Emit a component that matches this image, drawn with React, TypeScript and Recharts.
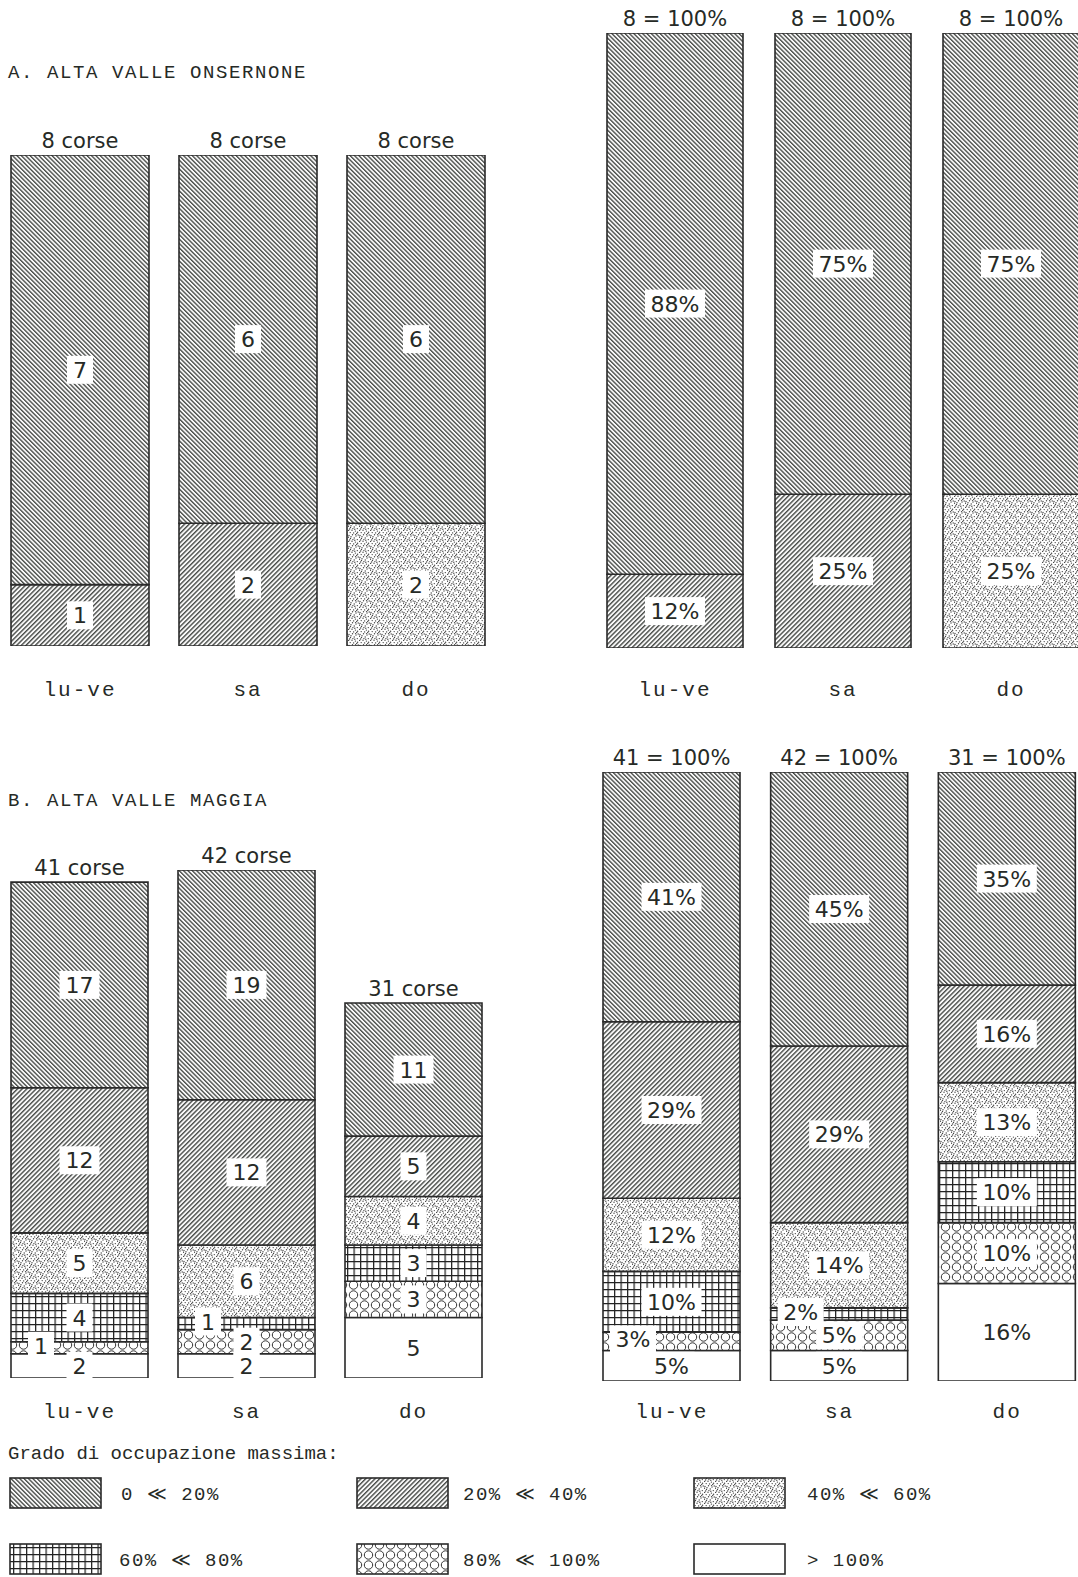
import React from "react"
import { BarChart, Bar, XAxis, YAxis, LabelList } from "recharts"

const CATEGORIES = ["lu-ve", "sa", "do"]

// segment order, bottom to top: >100%, 80-100%, 60-80%, 40-60%, 20-40%, 0-20%
const LEVELS = ["> 100%", "80% ≪ 100%", "60% ≪ 80%", "40% ≪ 60%", "20% ≪ 40%", "0 ≪ 20%"]

// A. Alta Valle Onsernone - number of runs
const onsTotals = [8, 8, 8]
const onsLuVe = [0, 0, 0, 0, 1, 7]
const onsSa = [0, 0, 0, 0, 2, 6]
const onsDo = [0, 0, 0, 2, 0, 6]
// A. percentages
const onsPctLuVe = [0, 0, 0, 0, 12, 88]
const onsPctSa = [0, 0, 0, 0, 25, 75]
const onsPctDo = [0, 0, 0, 25, 0, 75]

// B. Alta Valle Maggia - number of runs
const magTotals = [41, 42, 31]
const magLuVe = [2, 1, 4, 5, 12, 17]
const magSa = [2, 2, 1, 6, 12, 19]
const magDo = [5, 3, 3, 4, 5, 11]
// B. percentages
const magPctLuVe = [5, 3, 10, 12, 29, 41]
const magPctSa = [5, 5, 2, 14, 29, 45]
const magPctDo = [16, 10, 10, 13, 16, 35]

const FILLS = ["#ffffff", "url(#pOver)", "url(#pGrid)", "url(#pDots)", "url(#pHatch2)", "url(#pHatch1)"]

const buildRows = (values: number[][], headers: string[]) =>
  CATEGORIES.map((name, i) => {
    const row: Record<string, any> = { name, header: headers[i] }
    values[i].forEach((v, k) => (row[`s${k}`] = v))
    return row
  })

const LABEL_FONT = "'DejaVu Sans', sans-serif"
const MONO_FONT = "'Liberation Mono', 'DejaVu Sans Mono', monospace"
const INK = "#262a26"

const boxWidth = (text: string) => {
  let w = 0
  for (const ch of text) w += ch === "%" ? 20 : 14
  return w + 12
}

const SegmentLabel = (pct: boolean) => (props: any) => {
  const vb = props.viewBox || props
  const { x, y, width, height } = vb
  const value = props.value
  if (!value) return null
  const text = pct ? `${value}%` : `${value}`
  const small = height < 20
  const cx = small ? x + 30 : x + width / 2
  const cy = y + height / 2 - (small ? 2 : 0)
  const bw = boxWidth(text)
  return (
    <g>
      <rect x={cx - bw / 2} y={cy - 14} width={bw} height={28} fill="#fff" />
      <text x={cx} y={cy + 8} textAnchor="middle" fontFamily={LABEL_FONT} fontSize={22} fill={INK}>
        {text}
      </text>
    </g>
  )
}

const HeaderLabel = (props: any) => {
  const vb = props.viewBox || props
  const { x, y, width } = vb
  return (
    <text x={x + width / 2} y={y - 7} textAnchor="middle" fontFamily={LABEL_FONT} fontSize={21} fill={INK}>
      {props.value}
    </text>
  )
}

type PanelProps = {
  rows: Record<string, any>[]
  left: number
  width: number
  plotTop: number
  plotHeight: number
  max: number
  barSize: number
  tickOffset: number
  pct: boolean
}

const TOP = 50
const BOTTOM = 60

function Panel({ rows, left, width, plotTop, plotHeight, max, barSize, tickOffset, pct }: PanelProps) {
  const tick = ({ x, y, payload }: any) => (
    <text x={x} y={y + tickOffset} textAnchor="middle" fontFamily={MONO_FONT} fontSize={21} letterSpacing={2} fill={INK}>
      {payload.value}
    </text>
  )
  return (
    <div style={{ position: "absolute", left, top: plotTop - TOP }}>
      <BarChart
        width={width}
        height={TOP + plotHeight + BOTTOM}
        data={rows}
        margin={{ top: TOP, right: 0, bottom: 0, left: 0 }}
        barCategoryGap={0}
        barSize={barSize}
      >
        <XAxis dataKey="name" tickLine={false} axisLine={false} tickSize={0} tickMargin={0} height={BOTTOM} interval={0} tick={tick} />
        <YAxis hide type="number" domain={[0, max]} allowDataOverflow />
        {FILLS.map((fill, k) => (
          <Bar
            key={k}
            dataKey={`s${k}`}
            stackId="a"
            fill={fill}
            stroke="#2a2a2a"
            strokeWidth={1.6}
            isAnimationActive={false}
          >
            <LabelList dataKey={`s${k}`} content={SegmentLabel(pct)} />
            {k === FILLS.length - 1 && <LabelList dataKey="header" content={HeaderLabel} />}
          </Bar>
        ))}
      </BarChart>
    </div>
  )
}

const DOTS = [
  [1, 1.5], [4.5, 0.8], [8, 2], [2.5, 4.5], [6.2, 4], [9.3, 5.6], [0.6, 7.4], [4, 7.2], [7.4, 8.1], [2.2, 9.6], [5.6, 9.9], [9.6, 9.3],
  [3, 2.8], [10.2, 1], [6.8, 6.2], [1.6, 6], [8.7, 10.4], [4.9, 5.6], [0.4, 3.2], [7.6, 0.2],
]

const Patterns = () => (
  <defs>
    <pattern id="pHatch1" width="3.1" height="3.1" patternUnits="userSpaceOnUse" patternTransform="rotate(-45)">
      <rect width="3.1" height="3.1" fill="#fafafa" />
      <rect width="1.35" height="3.1" fill="#4a4d4a" />
    </pattern>
    <pattern id="pHatch2" width="3.3" height="3.3" patternUnits="userSpaceOnUse" patternTransform="rotate(45)">
      <rect width="3.3" height="3.3" fill="#fafafa" />
      <rect width="1.4" height="3.3" fill="#4a4d4a" />
    </pattern>
    <pattern id="pDots" width="11" height="11" patternUnits="userSpaceOnUse">
      <rect width="11" height="11" fill="#fff" />
      {DOTS.map(([cx, cy], i) => (
        <circle key={i} cx={cx} cy={cy} r={0.7} fill="#444" />
      ))}
    </pattern>
    <pattern id="pGrid" width="6.5" height="7" patternUnits="userSpaceOnUse">
      <rect width="6.5" height="7" fill="#fff" />
      <path d="M0 0.6 H6.5 M0.6 0 V7" stroke="#222" strokeWidth={1.3} />
    </pattern>
    <pattern id="pOver" width="11" height="10" patternUnits="userSpaceOnUse">
      <rect width="11" height="10" fill="#fff" />
      <circle cx={5.5} cy={5} r={4.2} fill="none" stroke="#333" strokeWidth={1} />
    </pattern>
  </defs>
)

const LEGEND_POS = [
  { sx: 10, sy: 1478, tx: 121, k: 5 },
  { sx: 357, sy: 1478, tx: 463, k: 4 },
  { sx: 694, sy: 1478, tx: 807, k: 3 },
  { sx: 10, sy: 1544, tx: 119, k: 2 },
  { sx: 357, sy: 1544, tx: 463, k: 1 },
  { sx: 694, sy: 1544, tx: 807, k: 0 },
]

export default function App() {
  const aCounts = buildRows([onsLuVe, onsSa, onsDo], onsTotals.map((n) => `${n} corse`))
  const aPct = buildRows([onsPctLuVe, onsPctSa, onsPctDo], onsTotals.map((n) => `${n} = 100%`))
  const bCounts = buildRows([magLuVe, magSa, magDo], magTotals.map((n) => `${n} corse`))
  const bPct = buildRows([magPctLuVe, magPctSa, magPctDo], magTotals.map((n) => `${n} = 100%`))

  return (
    <div style={{ position: "absolute", left: 0, top: 0, width: 1078, height: 1577, overflow: "hidden", background: "#fff" }}>
      <svg width={1078} height={1577} style={{ position: "absolute", left: 0, top: 0 }}>
        <Patterns />
        <text x={8} y={78} fontFamily={MONO_FONT} fontSize={19} letterSpacing={1.6} fill={INK}>
          A. ALTA VALLE ONSERNONE
        </text>
        <text x={8} y={806} fontFamily={MONO_FONT} fontSize={19} letterSpacing={1.6} fill={INK}>
          B. ALTA VALLE MAGGIA
        </text>
        <text x={8} y={1459} fontFamily={MONO_FONT} fontSize={19} fill={INK}>
          Grado di occupazione massima:
        </text>
        {LEGEND_POS.map(({ sx, sy, tx, k }) => (
          <g key={k}>
            <rect x={sx} y={sy} width={91} height={30} fill={FILLS[k]} stroke="#2a2a2a" strokeWidth={1.6} />
            <text x={tx} y={sy + 22} fontFamily={MONO_FONT} fontSize={19} letterSpacing={1.5} fill={INK}>
              {LEVELS[k]}
            </text>
          </g>
        ))}
      </svg>
      <Panel rows={aCounts} left={-4} width={504} plotTop={155} plotHeight={491} max={8} barSize={138} tickOffset={50} pct={false} />
      <Panel rows={aPct} left={591} width={504} plotTop={33} plotHeight={615} max={100} barSize={136} tickOffset={48} pct />
      <Panel rows={bCounts} left={-4} width={501} plotTop={870} plotHeight={508} max={42} barSize={137} tickOffset={40} pct={false} />
      <Panel rows={bPct} left={588} width={503} plotTop={772} plotHeight={609} max={100} barSize={137} tickOffset={37} pct />
    </div>
  )
}
